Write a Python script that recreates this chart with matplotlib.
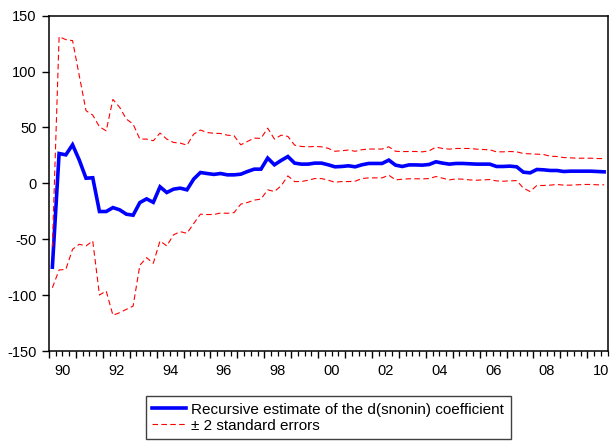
import numpy as np
import matplotlib
matplotlib.use("Agg")
import matplotlib.pyplot as plt
from matplotlib.ticker import FixedLocator, NullFormatter

plt.rcParams['font.family'] = ['Liberation Sans', 'DejaVu Sans']

# quarterly sample 1990Q1 - 2010Q3
start_year = 1990
n_obs = 83

estimate = [
    -75.0, 26.7, 25.5, 34.5, 20.8, 4.6, 5.0, -25.2, -25.2, -21.7,
    -23.7, -27.6, -28.5, -17.2, -13.9, -17.0, -3.1, -8.2, -5.2, -4.3,
    -5.8, 3.8, 9.7, 8.8, 8.0, 8.8, 7.6, 7.6, 8.2, 10.6,
    12.7, 12.7, 22.6, 16.6, 20.5, 24.0, 18.1, 17.2, 17.2, 18.1,
    18.1, 16.6, 14.8, 15.1, 15.7, 14.8, 16.6, 17.8, 17.8, 17.8,
    20.8, 16.3, 15.1, 16.5, 16.5, 16.3, 16.9, 19.3, 18.1, 17.2,
    17.8, 17.8, 17.5, 17.2, 17.2, 17.2, 15.1, 15.1, 15.4, 14.8,
    10.0, 9.4, 12.4, 12.1, 11.5, 11.5, 10.6, 10.9, 10.9, 10.9,
    10.9, 10.6, 10.3,
]

upper_band = [
    -57.0, 131.3, 128.6, 127.7, 96.3, 65.0, 61.1, 50.6, 47.0, 75.1,
    68.0, 57.5, 53.0, 39.6, 39.6, 38.1, 45.0, 39.6, 36.6, 36.0,
    34.2, 44.0, 47.7, 45.5, 44.8, 44.6, 43.1, 42.6, 34.5, 37.5,
    40.5, 40.2, 49.4, 39.6, 43.1, 42.0, 34.2, 33.0, 32.7, 33.0,
    32.7, 31.3, 28.7, 29.2, 29.8, 28.7, 30.1, 30.7, 30.7, 30.7,
    32.7, 28.7, 28.4, 28.5, 28.5, 28.2, 29.1, 32.4, 31.2, 30.6,
    31.2, 31.2, 31.2, 30.6, 30.3, 30.0, 28.2, 28.2, 28.5, 28.2,
    26.7, 26.4, 26.1, 25.8, 24.3, 24.0, 23.1, 22.8, 22.5, 22.5,
    22.5, 22.2, 22.2,
]

lower_band = [
    -93.4, -77.5, -77.0, -59.0, -54.5, -56.0, -51.5, -99.9, -96.3, -118.0,
    -115.7, -112.7, -109.8, -73.3, -66.5, -71.5, -51.5, -56.0, -46.1, -43.2,
    -44.7, -36.0, -27.6, -27.9, -27.9, -26.5, -26.8, -26.2, -18.6, -17.1,
    -15.0, -14.1, -5.8, -7.3, -2.2, 6.7, 1.6, 1.6, 2.8, 4.3,
    4.3, 2.8, 1.0, 1.6, 1.6, 1.9, 4.3, 4.9, 4.9, 4.9,
    7.3, 3.1, 3.7, 4.1, 4.1, 4.0, 4.3, 6.1, 4.6, 3.1,
    4.0, 3.7, 3.1, 2.8, 3.1, 3.4, 2.2, 1.9, 2.2, 2.5,
    -4.3, -7.3, -1.9, -1.9, -1.6, -1.0, -1.6, -1.6, -1.3, -1.0,
    -1.0, -1.3, -1.3,
]

year_labels = ["90", "92", "94", "96", "98", "00", "02", "04", "06", "08", "10"]
y_ticks = [-150, -100, -50, 0, 50, 100, 150]

# each quarter plotted at its mid-point
t = start_year + (np.arange(n_obs) + 0.5) / 4.0

fig = plt.figure(figsize=(6.13, 4.44), dpi=100)
ax = fig.add_axes([49 / 613, 1 - 351 / 444, (607.5 - 49) / 613, (351 - 15.7) / 444])

ax.plot(t, estimate, color='#0000FF', lw=2.6, solid_joinstyle='miter',
        label='Recursive estimate of the d(snonin) coefficient', zorder=3)
ax.plot(t, upper_band, color='#FF0000', lw=0.8, ls=(0, (5, 3)),
        label='\u00b1 2 standard errors', zorder=4)
ax.plot(t, lower_band, color='#FF0000', lw=0.8, ls=(0, (5, 3)), zorder=4)

ax.set_xlim(start_year, start_year + n_obs / 4.0)
ax.set_ylim(-150, 150)

ax.set_yticks(y_ticks)
ax.set_yticklabels([str(v) for v in y_ticks])
ax.tick_params(axis='y', direction='out', length=5, width=1, pad=4,
               labelsize=10.5, right=False)

# year boundaries as major ticks, quarters as minor ticks
ax.xaxis.set_major_locator(FixedLocator(np.arange(start_year, 2011)))
ax.xaxis.set_minor_locator(FixedLocator(np.arange(start_year, 2010.76, 0.25)))
ax.xaxis.set_major_formatter(NullFormatter())
ax.tick_params(axis='x', which='major', direction='out', length=5, width=1, top=False)
ax.tick_params(axis='x', which='minor', direction='out', length=3.5, width=0.9, top=False)

for k, lab in enumerate(year_labels):
    ax.annotate(lab, xy=(start_year + 2 * k + 0.5, 0), xycoords=('data', 'axes fraction'),
                xytext=(0, -9.5), textcoords='offset points',
                ha='center', va='top', fontsize=10.5)

for side in ax.spines.values():
    side.set_linewidth(1.1)
    side.set_color('black')

leg = ax.legend(loc='upper center', bbox_to_anchor=(0.5, -0.135), ncol=1,
                fontsize=11, frameon=True, fancybox=False, framealpha=1,
                edgecolor='#404040', handlelength=2.2, handletextpad=0.35,
                labelspacing=0.12, borderpad=0.42, borderaxespad=0)
leg.get_frame().set_linewidth(1.0)

fig.savefig('out.png', dpi=100)
